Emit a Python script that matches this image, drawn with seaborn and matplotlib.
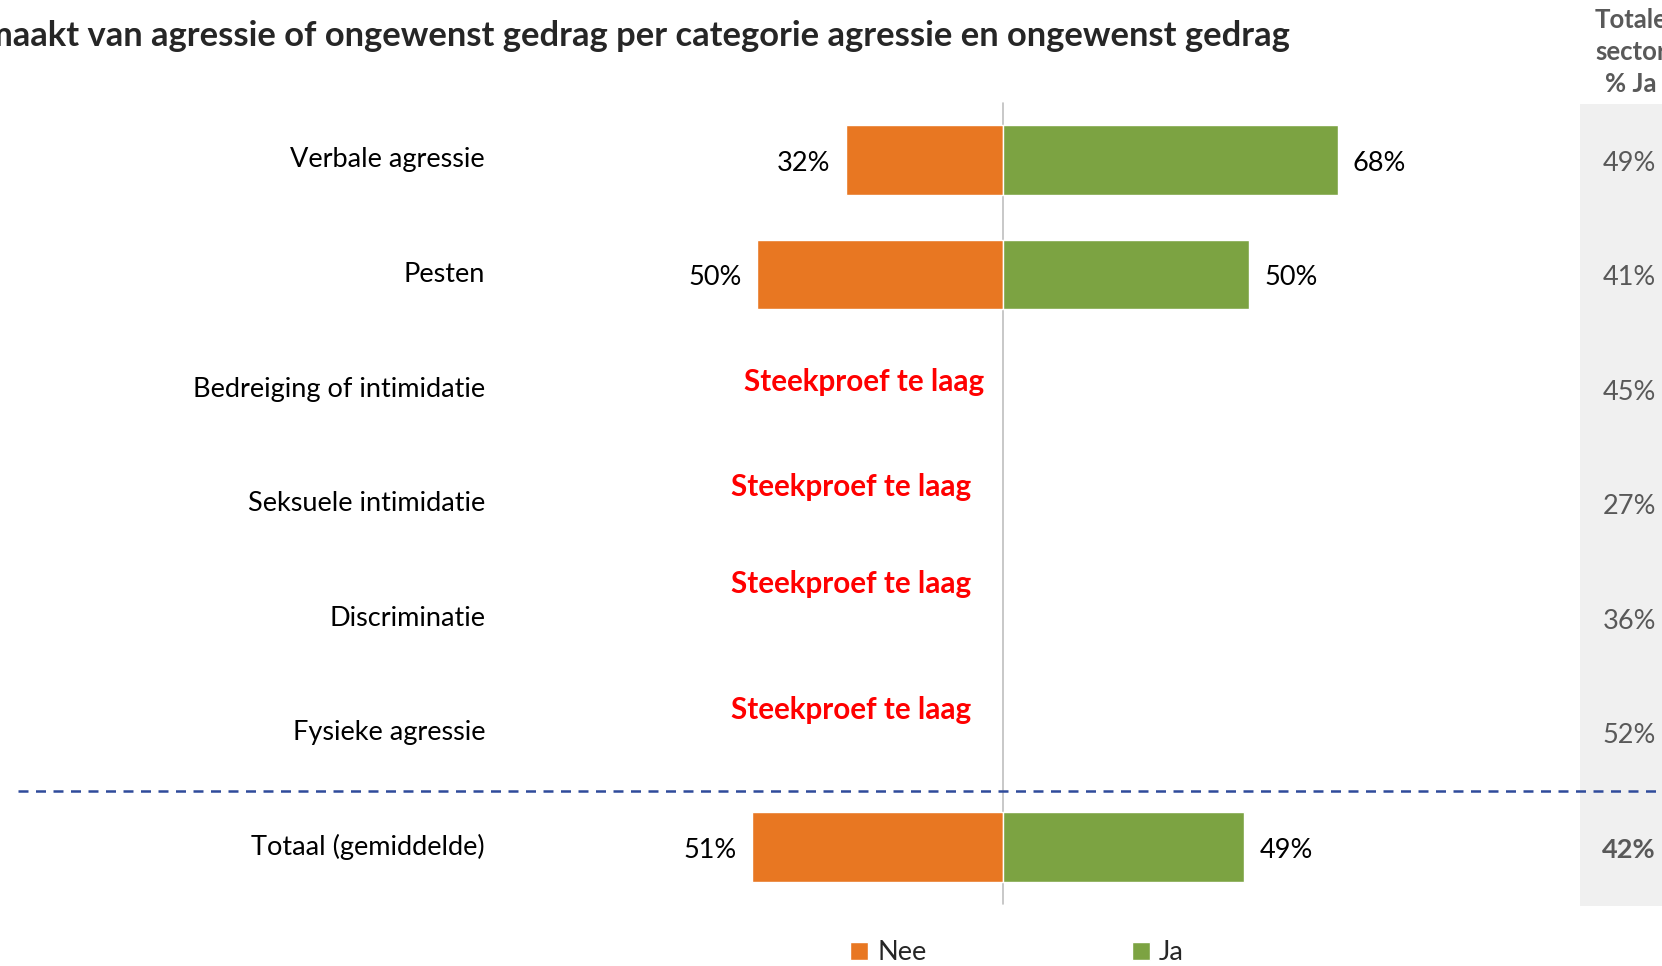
import numpy as np
import pandas as pd
import matplotlib
matplotlib.use("Agg")
import matplotlib.pyplot as plt
from matplotlib.patches import Patch
import seaborn as sns

# ---- data -------------------------------------------------------------
categories = [
    "Verbale agressie",
    "Pesten",
    "Bedreiging of intimidatie",
    "Seksuele intimidatie",
    "Discriminatie",
    "Fysieke agressie",
    "Totaal (gemiddelde)",
]
nee = [32, 50, np.nan, np.nan, np.nan, np.nan, 51]
ja = [68, 50, np.nan, np.nan, np.nan, np.nan, 49]
sector_ja = [49, 41, 45, 27, 36, 52, 42]
low_sample_text = "Steekproef te laag"
title = "maakt van agressie of ongewenst gedrag per categorie agressie en ongewenst gedrag"
sector_header = "Totale\nsector\n% Ja"
legend_labels = ["Nee", "Ja"]

# ---- style ------------------------------------------------------------
sns.set_theme(style="white")
plt.rcParams["font.family"] = ["Lato", "DejaVu Sans"]

ORANGE = "#E87722"
GREEN = "#7CA342"
GREY_TXT = "#595959"
FS = 19.5

W, H = 1662, 966
fig = plt.figure(figsize=(W / 100, H / 100), dpi=100)
ax = fig.add_axes([0, 0, 1, 1])

df = pd.DataFrame({"cat": categories, "nee": [-v for v in nee], "ja": ja})

sns.barplot(data=df, y="cat", x="nee", order=categories, color=ORANGE,
            orient="h", width=0.61, saturation=1, ax=ax, zorder=3)
sns.barplot(data=df, y="cat", x="ja", order=categories, color=GREEN,
            orient="h", width=0.61, saturation=1, ax=ax, zorder=3)

# axis mapping: centre line at x=1003px, 4.92 px per percent, rows 114.5 px apart
px_per = 4.92
x0 = 1003
ax.set_xlim(-x0 / px_per, (W - x0) / px_per)
ax.set_ylim((H - 160) / 114.5, -160 / 114.5)
ax.axis("off")

def xd(px):
    return (px - x0) / px_per

# value labels on the bars
for cont in ax.containers:
    labels = [f"{abs(b.get_width()):.0f}%" for b in cont]
    texts = ax.bar_label(cont, labels=labels, padding=11, fontsize=FS, color="#000000")
    for t in texts:
        x, y = t.xy
        t.xy = (x, y + 0.03)

# centre line
ax.axvline(0, ymin=1 - 904 / H, ymax=1 - 103 / H, color="#BFBFBF", lw=1.2, zorder=2)

# category labels
for i, c in enumerate(categories):
    ax.text(xd(485), i, c, ha="right", va="center", fontsize=FS, color="#000000")

# notes for categories with too few responses
note_pos = {2: (984, -0.06), 3: (971, -0.14), 4: (971, -0.30), 5: (971, -0.20)}
for i in range(len(categories)):
    if np.isnan(nee[i]) and i in note_pos:
        px, dy = note_pos[i]
        ax.text(xd(px), i + dy, low_sample_text, ha="right", va="center",
                fontsize=21.3, fontweight="bold", color="#FF0000")

# separator before the total row
ax.axhline(5.51, xmin=18 / W, xmax=1, color="#2F4B9B", lw=1.8,
           linestyle=(0, (4, 3)), zorder=4)

# sector comparison column
ax.axvspan(xd(1580), xd(W + 5), ymin=1 - 906 / H, ymax=1 - 104 / H,
           color="#F0F0F0", zorder=0, lw=0)
for i, v in enumerate(sector_ja):
    ax.text(xd(1656), i + 0.03, f"{v}%", ha="right", va="center", fontsize=FS,
            color=GREY_TXT, fontweight="bold" if i == len(sector_ja) - 1 else "normal")

fig.text(1631 / W, 1 - 52 / H, sector_header, ha="center", va="center",
         fontsize=18.5, fontweight="bold", color=GREY_TXT, linespacing=1.38)

# title
fig.text(1290 / W, 1 - 36 / H, title, ha="right", va="center", fontsize=24.8,
         fontweight="bold", color="#262626")

# legend
handles = [Patch(facecolor=ORANGE), Patch(facecolor=GREEN)]
fig.legend(handles, legend_labels, loc="center", ncol=2,
           bbox_to_anchor=(1017 / W, 1 - 953 / H), frameon=False, fontsize=FS,
           handlelength=0.65, handleheight=0.65, handletextpad=0.35,
           columnspacing=7.6, borderpad=0)

fig.savefig("out.png", dpi=100)
